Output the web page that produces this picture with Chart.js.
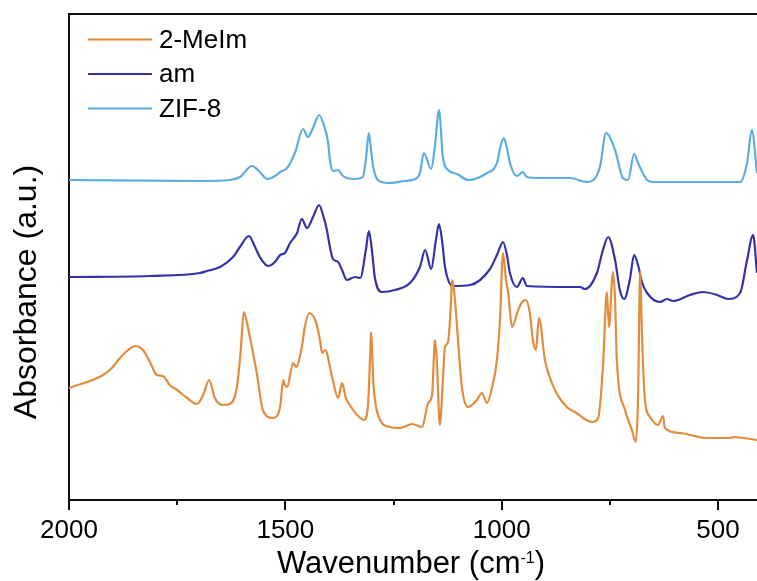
<!DOCTYPE html>
<html>
<head>
<meta charset="utf-8">
<script src="https://cdn.jsdelivr.net/npm/chart.js@4/dist/chart.umd.min.js"></script>
<style>
  html, body { margin: 0; padding: 0; background: #fff; overflow: hidden; }
  canvas { display: block; }
</style>
</head>
<body>
<canvas id="ftir" width="757" height="581"></canvas>
<script>
// FTIR spectra, stacked with vertical offsets (arbitrary absorbance units)
const FONT = '"Liberation Sans", Arial, Helvetica, sans-serif';

const seriesNames = ['2-MeIm', 'am', 'ZIF-8'];
const seriesColors = ['#E38C3E', '#3532A8', '#5CACE6'];

// 2-methylimidazole
const meimWavenumber = [2000,1921,1901,1882,1866,1847,1829,1813,1797,1783,1767,1750,1727,1704,1690,1676,1663,1644,1628,1612,
  1603,1596,1589,1582,1566,1552,1529,1512,1505,1501,1496,1482,1475,1462,1455,1445,1431,1420,1415,1408,
  1392,1378,1369,1360,1351,1334,1318,1309,1304,1302,1300,1297,1293,1281,1258,1235,1207,1184,1170,1161,
  1154,1150,1143,1136,1131,1124,1117,1115,1108,1101,1092,1078,1057,1046,1034,1022,1011,1004,997,990,
  985,976,962,953,944,935,928,921,914,900,877,847,831,791,777,766,757,752,743,738,
  734,715,699,690,685,680,676,669,657,639,627,623,588,526,472,466,410];
const meimAbsorbance = [112,125,132,142,149,154,150,138,125,124,115,110,102,96,105,120,102,95,96,113,
  150,188,178,163,127,90,82,93,120,115,113,137,133,153,173,187,180,160,147,150,
  123,102,117,102,95,85,80,95,145,168,155,120,100,80,73,72,76,73,97,105,
  160,140,75,120,153,158,200,220,200,160,113,93,100,107,97,113,140,180,247,220,
  207,173,190,198,200,187,160,150,182,140,110,92,88,78,82,133,208,173,228,200,
  140,90,70,58,100,229,167,100,83,75,84,72,67,62,62,63,60];

// am sample
const amWavenumber = [2000,1813,1697,1681,1651,1621,1605,1584,1570,1559,1540,1524,1512,1501,1489,1473,1462,1450,1436,1422,
  1413,1404,1397,1390,1378,1369,1358,1339,1327,1314,1307,1300,1293,1277,1247,1212,1189,1177,1163,1152,
  1145,1138,1131,1113,1073,1027,1009,997,988,981,965,951,942,842,819,808,780,766,754,738,
  727,717,704,694,685,676,664,634,618,604,565,535,502,477,449,433,419,410];
const amAbsorbance = [223,224,227,229,233,243,253,264,253,243,234,238,245,247,257,267,281,272,283,295,
  285,270,253,241,238,230,220,223,222,250,269,250,222,208,210,217,233,250,231,260,
  276,260,233,214,215,231,247,258,245,227,213,222,214,213,213,211,227,250,263,240,
  210,201,220,245,235,218,207,198,201,199,205,208,205,201,207,240,265,227];

// ZIF-8
const zifWavenumber = [2000,1697,1628,1605,1577,1559,1542,1524,1512,1496,1478,1459,1448,1436,1422,1411,1401,1397,1390,1378,
  1369,1358,1339,1321,1314,1307,1302,1297,1286,1263,1224,1200,1189,1180,1163,1154,1145,1136,1124,1103,
  1078,1034,1011,1002,995,988,981,965,951,942,912,842,803,773,759,738,720,708,694,685,
  664,650,449,433,422,410];
const zifAbsorbance = [320,319,320,323,334,328,321,324,328,332,347,371,363,372,385,375,357,340,329,330,
  325,322,321,323,340,367,350,333,320,317,319,321,327,347,331,355,390,343,330,326,
  320,327,337,355,362,352,337,324,328,323,322,322,318,333,367,350,322,320,346,337,
  320,318,318,337,370,327];

const majorTicks = [2000, 1500, 1000, 500];
const minorTicks = [1750, 1250, 750];

const xTitle = 'Wavenumber (cm';
const xTitleSup = '-1';
const yTitle = 'Absorbance (a.u.)';

function toPoints(xs, ys) {
  return xs.map((x, i) => ({ x: x, y: ys[i] }));
}

const seriesX = [meimWavenumber, amWavenumber, zifWavenumber];
const seriesY = [meimAbsorbance, amAbsorbance, zifAbsorbance];

const datasets = seriesNames.map((name, i) => ({
  label: name,
  data: toPoints(seriesX[i], seriesY[i]),
  borderColor: seriesColors[i],
  backgroundColor: seriesColors[i],
  borderWidth: 2.2,
  pointRadius: 0,
  cubicInterpolationMode: 'monotone',
  fill: false
}));

// Frame top line, minor ticks, axis titles and legend
const decorations = {
  id: 'decorations',
  afterDraw(chart) {
    const ctx = chart.ctx;
    const area = chart.chartArea;
    const xs = chart.scales.x;
    ctx.save();
    ctx.strokeStyle = '#111';
    ctx.lineWidth = 2;
    ctx.beginPath();
    ctx.moveTo(area.left - 1, area.top);
    ctx.lineTo(area.right + 2, area.top);
    ctx.stroke();

    minorTicks.forEach(v => {
      const px = Math.round(xs.getPixelForValue(v));
      ctx.beginPath();
      ctx.moveTo(px, area.bottom);
      ctx.lineTo(px, area.bottom + 5);
      ctx.stroke();
    });

    // x title with superscript
    ctx.fillStyle = '#000';
    ctx.textBaseline = 'alphabetic';
    ctx.textAlign = 'left';
    const mainFont = '31px ' + FONT;
    const supFont = '16px ' + FONT;
    ctx.font = mainFont;
    const w1 = ctx.measureText(xTitle).width;
    const w3 = ctx.measureText(')').width;
    ctx.font = supFont;
    const w2 = ctx.measureText(xTitleSup).width;
    const total = w1 + w2 + w3;
    let tx = (area.left + area.right) / 2 - total / 2 - 2;
    const base = 573;
    ctx.font = mainFont;
    ctx.fillText(xTitle, tx, base);
    tx += w1;
    ctx.font = supFont;
    ctx.fillText(xTitleSup, tx, base - 10);
    tx += w2;
    ctx.font = mainFont;
    ctx.fillText(')', tx, base);

    // y title
    ctx.save();
    ctx.translate(27, 292);
    ctx.rotate(-Math.PI / 2);
    ctx.font = '32px ' + FONT;
    ctx.textAlign = 'center';
    ctx.textBaseline = 'middle';
    ctx.fillText(yTitle, 0, 0);
    ctx.restore();

    // legend
    ctx.font = '26px ' + FONT;
    ctx.textAlign = 'left';
    ctx.textBaseline = 'middle';
    chart.data.datasets.forEach((ds, i) => {
      const y = 39.5 + i * 34.5;
      ctx.strokeStyle = ds.borderColor;
      ctx.lineWidth = 2.2;
      ctx.beginPath();
      ctx.moveTo(88, y);
      ctx.lineTo(152, y);
      ctx.stroke();
      ctx.fillStyle = '#000';
      ctx.fillText(ds.label, 159, y + 1);
    });
    ctx.restore();
  }
};

new Chart(document.getElementById('ftir'), {
  type: 'line',
  data: { datasets: datasets },
  options: {
    responsive: false,
    animation: false,
    events: [],
    layout: { padding: { top: 14, left: 0, right: 0, bottom: 0 } },
    plugins: { legend: { display: false }, tooltip: { enabled: false } },
    scales: {
      x: {
        type: 'linear',
        reverse: true,
        min: 410,
        max: 2000,
        afterBuildTicks: s => { s.ticks = majorTicks.map(v => ({ value: v })); },
        afterFit: s => { s.height = 81; },
        border: { display: true, color: '#111', width: 2 },
        grid: { display: true, drawOnChartArea: false, drawTicks: true, tickLength: 10, color: '#111', lineWidth: 2 },
        ticks: {
          color: '#000',
          font: { family: FONT, size: 26 },
          padding: 5,
          maxRotation: 0,
          autoSkip: false,
          callback: v => String(v)
        }
      },
      y: {
        type: 'linear',
        min: 0,
        max: 486,
        afterFit: s => { s.width = 69; },
        border: { display: true, color: '#111', width: 2 },
        grid: { display: false },
        ticks: { display: false }
      }
    }
  },
  plugins: [decorations]
});
</script>
</body>
</html>
